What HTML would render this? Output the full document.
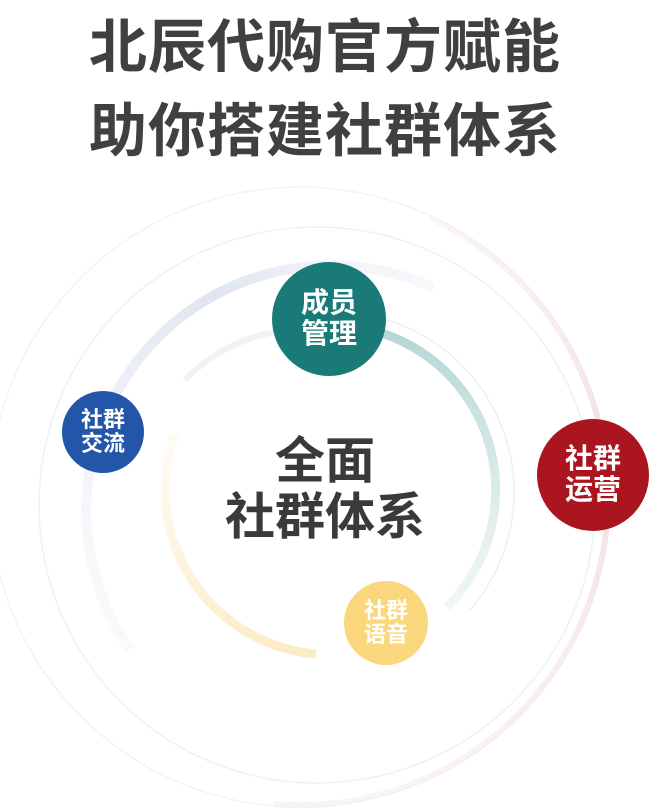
<!DOCTYPE html>
<html><head><meta charset="utf-8"><style>
body{margin:0;width:650px;height:808px;background:#fff;overflow:hidden;position:relative;font-family:"Liberation Sans","Noto Sans CJK SC",sans-serif;}
.t{position:absolute;left:0;width:650px;text-align:center;font-weight:bold;color:#404040;font-size:58px;line-height:1;letter-spacing:1px}
.n{position:absolute;border-radius:50%;color:#fff;font-weight:bold;display:flex;align-items:center;justify-content:center;text-align:center;line-height:1.1}
</style></head><body>
<div class="t" style="top:19px">北辰代购官方赋能</div>
<div class="t" style="top:103px">助你搭建社群体系</div>
<svg width="650" height="808" style="position:absolute;left:0;top:0">
<defs>
<linearGradient id="red" x1="0" y1="0" x2="0" y2="1"><stop offset="0" stop-color="#f6ecee" stop-opacity="0.5"/><stop offset="0.4" stop-color="#f2dfe2"/><stop offset="1" stop-color="#f6eaec" stop-opacity="0.5"/></linearGradient>
<linearGradient id="blue" x1="1" y1="0" x2="0" y2="1"><stop offset="0" stop-color="#eef1f7" stop-opacity="0.4"/><stop offset="0.35" stop-color="#dfe5f0"/><stop offset="1" stop-color="#eef1f6" stop-opacity="0.3"/></linearGradient>
<linearGradient id="teal" x1="0" y1="0" x2="0" y2="1"><stop offset="0" stop-color="#b2d5d3"/><stop offset="1" stop-color="#e6f1f0" stop-opacity="0.6"/></linearGradient>
<linearGradient id="yel" x1="0" y1="0" x2="0" y2="1"><stop offset="0" stop-color="#fcf6e6" stop-opacity="0.4"/><stop offset="1" stop-color="#fcecc4"/></linearGradient>
</defs>
<circle cx="300" cy="497" r="310" fill="none" stroke="#f6f2f4" stroke-width="1.5"/>
<path d="M 430 218 A 308 308 0 0 1 273 804" fill="none" stroke="url(#red)" stroke-width="6"/>
<circle cx="317" cy="505" r="278" fill="none" stroke="#eef1f6" stroke-width="1.5"/>
<path d="M 434 288 A 245 245 0 0 0 130 650" fill="none" stroke="url(#blue)" stroke-width="10"/>
<path d="M 380 318 A 180 180 0 0 1 470 610" fill="none" stroke="#e9f1f1" stroke-width="1.5"/>
<path d="M 330 325 A 165 165 0 0 1 447 607" fill="none" stroke="url(#teal)" stroke-width="9"/>
<path d="M 175 434 A 165 165 0 0 0 316 654" fill="none" stroke="url(#yel)" stroke-width="9"/>
<path d="M 185 380 A 165 165 0 0 1 290 330" fill="none" stroke="#edf4f3" stroke-width="6"/>
</svg>
<div class="t" style="top:436px;font-size:50px;color:#3a3a3a;letter-spacing:0">全面</div>
<div class="t" style="top:492px;font-size:50px;color:#3a3a3a;letter-spacing:0">社群体系</div>
<div class="n" style="left:272px;top:262px;width:114px;height:114px;background:#1a7a78;font-size:28px">成员<br>管理</div>
<div class="n" style="left:62px;top:391px;width:82px;height:82px;background:#2356a8;font-size:22px">社群<br>交流</div>
<div class="n" style="left:537px;top:419px;width:112px;height:112px;background:#aa1520;font-size:28px">社群<br>运营</div>
<div class="n" style="left:344px;top:581px;width:84px;height:84px;background:#fad77c;font-size:22px">社群<br>语音</div>
</body></html>
